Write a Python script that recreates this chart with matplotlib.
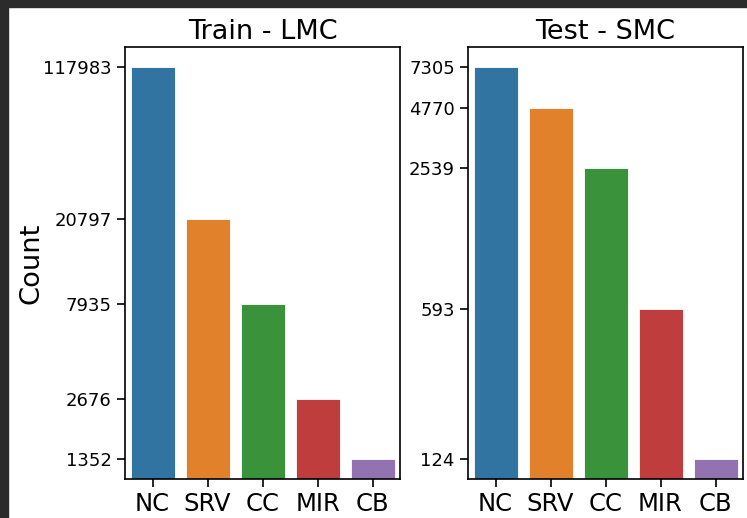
import matplotlib
matplotlib.use("Agg")
import matplotlib.pyplot as plt
from matplotlib.patches import Rectangle
import numpy as np

# class counts per split
classes = ["NC", "SRV", "CC", "MIR", "CB"]
train_counts = [117983, 20797, 7935, 2676, 1352]
test_counts = [7305, 4770, 2539, 593, 124]
titles = ["Train - LMC", "Test - SMC"]

# seaborn default palette (tab10 at saturation 0.75)
colors = ["#3274a1", "#e1812c", "#3a923a", "#c03d3e", "#9372b2"]

W, H = 747, 518
fig = plt.figure(figsize=(W / 100, H / 100), dpi=100)
fig.patch.set_facecolor("white")

# dark frame along top and left edge
fig.patches.append(Rectangle((0, 1 - 7 / H), 1, 7 / H, transform=fig.transFigure,
                             color="#2b2b2b", zorder=0))
fig.patches.append(Rectangle((0, 0), 8 / W, 1, transform=fig.transFigure,
                             color="#2b2b2b", zorder=0))


def px_axes(x0, x1, y0, y1):
    return fig.add_axes([x0 / W, 1 - y1 / H, (x1 - x0) / W, (y1 - y0) / H])


axes = [px_axes(125, 400, 47, 479), px_axes(468, 743, 47, 479)]

for ax, counts, title in zip(axes, [train_counts, test_counts], titles):
    x = np.arange(len(classes))
    ax.bar(x, counts, width=0.8, color=colors, edgecolor="white", linewidth=0.6)
    ax.set_yscale("log")
    lo, hi = np.log10(min(counts)), np.log10(max(counts))
    pad = 0.05 * (hi - lo)
    ax.set_ylim(10 ** (lo - pad), 10 ** (hi + pad))
    ax.set_xlim(-0.5, len(classes) - 0.5)
    ax.set_yticks(counts)
    ax.set_yticklabels([str(c) for c in counts])
    ax.minorticks_off()
    ax.set_xticks(x)
    ax.set_xticklabels(classes)
    ax.tick_params(axis="y", labelsize=13, length=6, width=1.2)
    ax.tick_params(axis="x", labelsize=17.5, length=6, width=1.2)
    for s in ax.spines.values():
        s.set_linewidth(1.2)
    ax.set_title(title, fontsize=19.5)

axes[0].set_ylabel("Count", fontsize=19.7, labelpad=-1)

fig.savefig("out.png", dpi=100)
